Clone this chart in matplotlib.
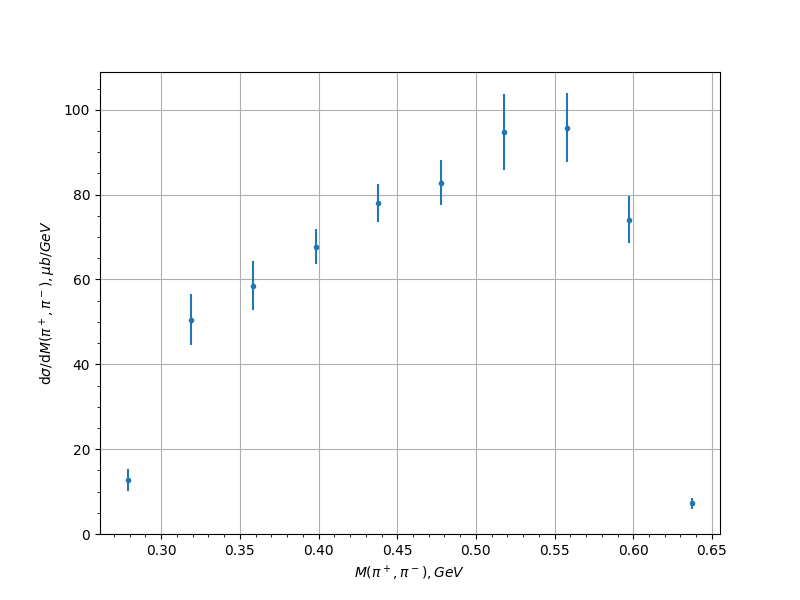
import numpy as np
import matplotlib
matplotlib.use("Agg")
import matplotlib.pyplot as plt

# invariant mass bins and cross section
mass = [0.279, 0.319, 0.3585, 0.3983, 0.438, 0.4778, 0.5178, 0.5578, 0.5972, 0.6372]
xsec = [12.7, 50.5, 58.5, 67.7, 78.1, 82.8, 94.8, 95.8, 74.1, 7.3]
err = [2.6, 6.0, 5.8, 4.1, 4.5, 5.3, 8.9, 8.2, 5.5, 1.3]

def main():
    fig, ax = plt.subplots(figsize=(8, 6), dpi=100)
    ax.errorbar(mass, xsec, yerr=err, fmt='.')
    ax.set_ylim(bottom=0)
    ax.set_xlabel(r"$M(\pi^+,\pi^-), GeV$")
    ax.set_ylabel(r"d$\sigma$/d$M(\pi^+,\pi^-), \mu b/GeV$")
    ax.minorticks_on()
    ax.grid(True, which='major')
    fig.savefig("out.png")

if __name__ == "__main__":
    main()
